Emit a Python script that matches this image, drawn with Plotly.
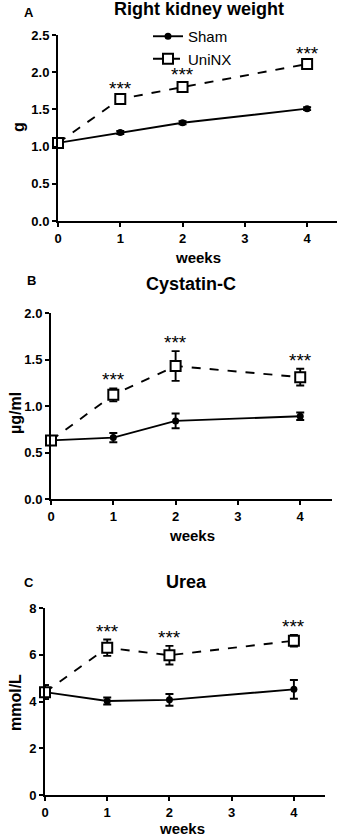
import plotly.graph_objects as go

weeks = [0, 1, 2, 4]

kidney_sham = [1.05, 1.19, 1.32, 1.51]
kidney_sham_err = [0.02, 0.02, 0.02, 0.02]
kidney_uninx = [1.05, 1.64, 1.80, 2.11]
kidney_uninx_err = [0.02, 0.03, 0.06, 0.03]

cys_sham = [0.63, 0.66, 0.84, 0.89]
cys_sham_err = [0.03, 0.05, 0.08, 0.04]
cys_uninx = [0.63, 1.12, 1.43, 1.31]
cys_uninx_err = [0.03, 0.07, 0.16, 0.09]

urea_sham = [4.40, 4.02, 4.07, 4.52]
urea_sham_err = [0.30, 0.15, 0.25, 0.40]
urea_uninx = [4.40, 6.30, 5.98, 6.60]
urea_uninx_err = [0.30, 0.35, 0.40, 0.25]

sig_weeks = [1, 2, 4]
sig_label = "***"

W, H = 340, 836

panels = [
    dict(title="Right kidney weight", letter="A", ylabel="g", yrange=[0, 2.5], dtick=0.5, fmt=".1f",
         sham=kidney_sham, sham_err=kidney_sham_err, uni=kidney_uninx, uni_err=kidney_uninx_err,
         xdom=[58, 337], xmax=4.48, ydom=[221, 35], letter_xy=(29, 13), title_xy=(199, 9),
         weeks_xy=(198, 257), ylab_xy=(19, 127)),
    dict(title="Cystatin-C", letter="B", ylabel="µg/ml", yrange=[0, 2.0], dtick=0.5, fmt=".1f",
         sham=cys_sham, sham_err=cys_sham_err, uni=cys_uninx, uni_err=cys_uninx_err,
         xdom=[51, 332], xmax=4.51, ydom=[499, 313], letter_xy=(31, 280), title_xy=(191, 284),
         weeks_xy=(192, 535), ylab_xy=(15, 413)),
    dict(title="Urea", letter="C", ylabel="mmol/L", yrange=[0, 8], dtick=2, fmt="d",
         sham=urea_sham, sham_err=urea_sham_err, uni=urea_uninx, uni_err=urea_uninx_err,
         xdom=[45, 325], xmax=4.5, ydom=[795, 608], letter_xy=(29, 582), title_xy=(186, 582),
         weeks_xy=(182, 828), ylab_xy=(15, 703)),
]

FONT = "Liberation Sans"
LW = 1.9
fig = go.Figure()
annotations = []


def px(x):
    return x / W


def py(y):
    return 1 - y / H


def paper_text(xy, text, size, angle=0):
    return dict(x=px(xy[0]), y=py(xy[1]), xref="paper", yref="paper", text=text, textangle=angle,
                showarrow=False, xanchor="center", yanchor="middle",
                font=dict(family=FONT, size=size, color="black"))


for i, p in enumerate(panels):
    n = "" if i == 0 else str(i + 1)
    xa, ya = "x" + n, "y" + n
    fig.add_trace(go.Scatter(
        x=weeks, y=p["sham"], xaxis=xa, yaxis=ya, name="Sham", showlegend=(i == 0),
        legendgroup="sham",
        mode="lines+markers", line=dict(color="black", width=LW),
        marker=dict(symbol="circle", size=7, color="black"),
        error_y=dict(type="data", array=p["sham_err"], color="black", thickness=LW, width=4),
        cliponaxis=False))
    fig.add_trace(go.Scatter(
        x=weeks, y=p["uni"], xaxis=xa, yaxis=ya, name="UniNX", showlegend=(i == 0),
        legendgroup="uni",
        mode="lines+markers", line=dict(color="black", width=LW, dash="dash"),
        marker=dict(symbol="square", size=10, color="white", line=dict(color="black", width=2)),
        error_y=dict(type="data", array=p["uni_err"], color="black", thickness=LW, width=4),
        cliponaxis=False))
    for w in sig_weeks:
        k = weeks.index(w)
        annotations.append(dict(x=w, y=p["uni"][k] + p["uni_err"][k], xref=xa, yref=ya,
                                text=sig_label, showarrow=False, yanchor="bottom", yshift=-4,
                                font=dict(family=FONT, size=19, color="#000000")))
    annotations.append(paper_text(p["letter_xy"], "<b>%s</b>" % p["letter"], 13))
    annotations.append(paper_text(p["title_xy"], "<b>%s</b>" % p["title"], 18))
    annotations.append(paper_text(p["weeks_xy"], "<b>weeks</b>", 15))
    annotations.append(paper_text(p["ylab_xy"], "<b>%s</b>" % p["ylabel"], 16, angle=-90))
    axcommon = dict(showline=True, linecolor="black", linewidth=LW, ticks="outside", ticklen=4,
                    tickwidth=LW, tickcolor="black", showgrid=False, zeroline=False,
                    tickfont=dict(family=FONT, size=13, color="black"))
    fig.layout["xaxis" + n] = dict(domain=[px(p["xdom"][0]), px(p["xdom"][1])], range=[0, p["xmax"]], anchor=ya,
                                   tickvals=[0, 1, 2, 3, 4], ticktext=["<b>%d</b>" % t for t in [0, 1, 2, 3, 4]],
                                   **axcommon)
    nt = int(round((p["yrange"][1] - p["yrange"][0]) / p["dtick"]))
    yt = [p["yrange"][0] + p["dtick"] * j for j in range(nt + 1)]
    fig.layout["yaxis" + n] = dict(domain=[py(p["ydom"][0]), py(p["ydom"][1])], range=p["yrange"], anchor=xa,
                                   tickvals=yt,
                                   ticktext=["<b>%s</b>" % format(v if p["fmt"] != "d" else int(v), p["fmt"]) for v in yt],
                                   **axcommon)

fig.update_layout(
    width=W, height=H, margin=dict(l=0, r=0, t=0, b=0, autoexpand=False),
    plot_bgcolor="white", paper_bgcolor="white",
    annotations=annotations,
    legend=dict(x=px(148), y=py(20), xanchor="left", yanchor="top", bgcolor="rgba(0,0,0,0)",
                font=dict(family=FONT, size=15, color="black"), traceorder="grouped",
                tracegroupgap=0, itemwidth=30),
    showlegend=True,
)

fig.write_html("out.html", config={"displayModeBar": False},
               post_script="document.body.style.margin='0';document.body.style.overflow='hidden';")
